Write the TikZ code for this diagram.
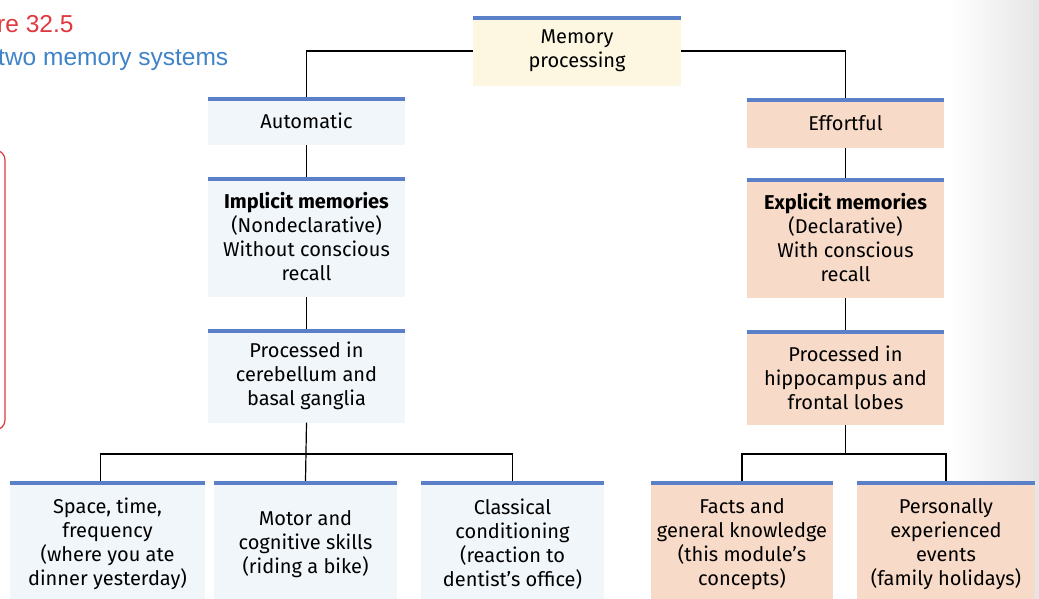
\documentclass[tikz,border=0pt]{standalone}
\usepackage{fontspec}
\setmainfont{Fira Sans}
\newfontfamily\capfont{Liberation Sans}
\usepackage{tikz}

\definecolor{barblue}{RGB}{92,128,200}
\definecolor{paleblue}{RGB}{241,246,250}
\definecolor{paleyellow}{RGB}{253,246,224}
\definecolor{salmon}{RGB}{247,218,199}
\definecolor{capred}{RGB}{224,56,62}
\definecolor{capblue}{RGB}{63,130,200}

\tikzset{
   box/.style={
      draw=none,
      align=center,
      inner sep=2pt,
      font=\fontsize{20}{24}\selectfont
   },
   autobox/.style={box, fill=paleblue},
   efbox/.style={box, fill=salmon},
   topbox/.style={box, fill=paleyellow},
   bar/.style={barblue, line width=4pt},
   link/.style={black, line width=1.2pt},
   caption/.style={anchor=base west, inner sep=0, font=\capfont\fontsize{24.5}{28}\selectfont}
}

\begin{document}
\begin{tikzpicture}[x=1pt,y=-1pt]
   \useasboundingbox (0,0) rectangle (1039,598);
   \clip (0,0) rectangle (1039,598);

   \shade[left color=white, right color=black!10] (950,0) rectangle (1039,598);
   \draw[capred, line width=1.2pt, rounded corners=10pt] (-40,150) rectangle (5,430);

   \node[caption, text=capred] (fignum) at (-3,32) {re 32.5};
   \node[caption, text=capblue] (figtitle) at (-2,65) {two memory systems};

   \node[topbox, minimum width=208pt, minimum height=70pt] (mem) at (577,51) {Memory\\processing};

   \node[autobox, minimum width=197pt, minimum height=48pt] (auto) at (306.5,121) {Automatic};
   \node[efbox, minimum width=197pt, minimum height=50pt] (eff) at (845.5,123) {Effortful};

   \node[autobox, minimum width=197pt, minimum height=120pt] (impl) at (306.5,237)
      {\textbf{Implicit memories}\\(Nondeclarative)\\Without conscious\\recall};
   \node[efbox, minimum width=197pt, minimum height=120pt] (expl) at (845.5,238)
      {\textbf{Explicit memories}\\(Declarative)\\With conscious\\recall};

   \node[autobox, minimum width=197pt, minimum height=93pt] (procL) at (306.5,376)
      {Processed in\\cerebellum and\\basal ganglia};
   \node[efbox, minimum width=197pt, minimum height=95pt] (procR) at (845.5,377.5)
      {Processed in\\hippocampus and\\frontal lobes};

   \node[autobox, minimum width=195pt, minimum height=126pt] (space) at (107.5,544)
      {Space, time,\\frequency\\(where you ate\\dinner yesterday)};
   \node[autobox, minimum width=183pt, minimum height=126pt] (motor) at (305.5,544)
      {Motor and\\cognitive skills\\(riding a bike)};
   \node[autobox, minimum width=183pt, minimum height=126pt] (classic) at (512.5,544)
      {Classical\\conditioning\\(reaction to\\dentist's office)};

   \node[efbox, minimum width=182pt, minimum height=126pt] (facts) at (742,544)
      {Facts and\\general knowledge\\(this module's\\concepts)};
   \node[efbox, minimum width=178pt, minimum height=126pt] (events) at (946,544)
      {Personally\\experienced\\events\\(family holidays)};

   \coordinate (busL) at (306.5,454);
   \coordinate (busR) at (845.5,454);

   \draw[link] (mem.west) -| (auto.north);
   \draw[link] (mem.east) -| (eff.north);
   \draw[link] (auto.south) -- (impl.north);
   \draw[link] (eff.south) -- (expl.north);
   \draw[link] (impl.south) -- (procL.north);
   \draw[link] (expl.south) -- (procR.north);

   \draw[link] (procL.south) -- (motor.north);
   \draw[link] ([xshift=-7pt]space.north) |- (busL) -| (classic.north);
   \draw[link] (procR.south) -- (busR);
   \draw[link] (facts.north) |- (busR) -| (events.north);

   \foreach \n in {mem,auto,eff,impl,expl,procL,procR,space,motor,classic,facts,events}
      \draw[bar] ([yshift=-2pt]\n.north west) -- ([yshift=-2pt]\n.north east);

\end{tikzpicture}
\end{document}
